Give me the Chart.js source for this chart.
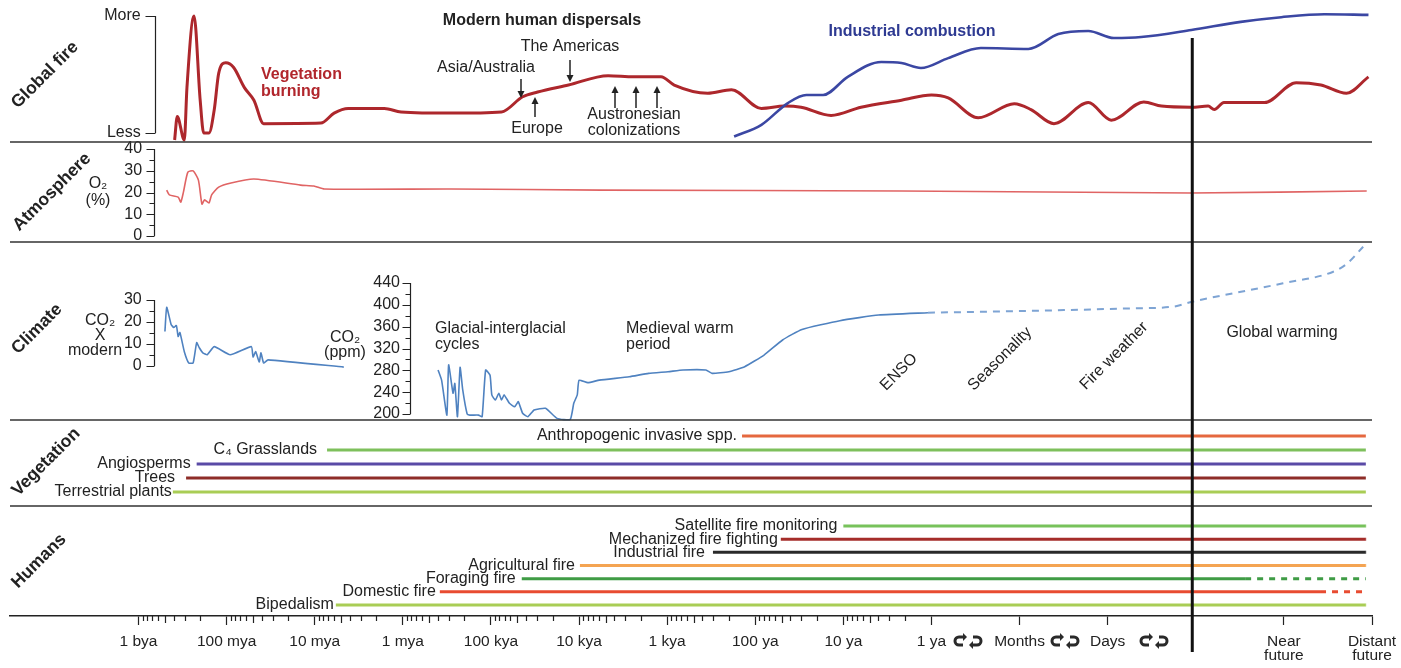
<!DOCTYPE html>
<html><head><meta charset="utf-8">
<script src="https://cdn.jsdelivr.net/npm/chart.js@4.4.1/dist/chart.umd.min.js"></script>
<style>html,body{margin:0;padding:0;background:#fff}canvas{display:block}</style>
</head><body>
<canvas id="c" width="1401" height="668" style="width:1401px;height:668px"></canvas>
<script>
// ---- time axis: decades on a log scale (0 = 1 bya, 1 = 100 mya ... 9 = 1 ya, 10 = months, 11 = days, 13/14 = future)
const xTickValues = [0,1,2,3,4,5,6,7,8,9,10,11,13,14];
const xTickLabels = ['1 bya','100 mya','10 mya','1 mya','100 kya','10 kya','1 kya','100 ya','10 ya','1 ya','Months','Days',['Near','future'],['Distant','future']];
const presentX = 11.96;

// ---- Global fire (relative: 0 = Less, 100 = More)
const fireX = [0.41,0.44,0.52,0.55,0.63,0.70,0.74,0.80,0.86,0.91,0.99,1.08,1.20,1.31,1.42,2.07,2.22,2.38,2.79,2.98,3.55,4.12,4.36,4.53,4.88,5.33,5.62,5.93,6.08,6.46,6.73,7.07,7.33,7.52,7.86,8.20,8.66,9.00,9.19,9.53,9.94,10.13,10.39,10.78,11.04,11.41,11.61,11.95,12.14,12.21,12.32,12.78,13.14,13.42,13.71,13.96];
const vegetationBurning = [-6,14,-6,39,100,28,0,0,20,51,60,56,39,28,8,8.5,17,21,21,18,17,18,31,35,41,49,48,48,41,34,37,21,23,22,15,22,28,32.5,30,13,25,20,8,26,11,26.5,23,22,23,20,26,26,43,41,34,48];
const industrialX = [6.76,7.07,7.37,7.58,7.77,8.05,8.43,8.66,8.88,9.19,9.56,10.10,10.44,10.78,11.07,11.38,11.95,12.51,12.97,13.46,13.96];
const industrialCombustion = [-3,7,25.6,32.5,32.5,48,60.7,59.8,55.6,64,72.6,71.8,84.6,87.2,81.2,82,88,95,99,101.5,101];
const fireTicks = [0,100];
const fireTickLabels = ['Less','More'];

// ---- Atmosphere O2 (%)
const o2X = [0.32,0.35,0.45,0.48,0.51,0.56,0.62,0.68,0.72,0.75,0.80,0.83,0.91,1.05,1.31,1.84,1.99,2.11,3.55,5.25,8.66,11.95,13.94];
const o2Percent = [21.1,18.9,17.9,15.6,20.2,29.4,29.9,25.7,14.7,16.6,15.2,18.9,22.5,24.4,26.2,23.4,23,21.6,21.6,21.1,20.7,19.8,20.7];
const o2Ticks = [0,10,20,30,40];
const o2MinorTicks = [5,15,25,35];

// ---- Climate: CO2 x modern (deep time) and CO2 ppm
const co2ModernX = [0.30,0.32,0.37,0.40,0.43,0.45,0.47,0.52,0.57,0.62,0.66,0.69,0.73,0.78,0.86,1.04,1.28,1.30,1.33,1.37,1.39,1.42,1.47,2.33];
const co2TimesModern = [15.7,26.7,18.9,17.5,18.4,13.4,15.2,6.5,1.4,1.4,10.6,8.3,6.0,5.1,8.8,5.1,8.8,4.1,6.5,1.8,6.0,1.4,2.8,-0.5];
const co2ModernTicks = [0,10,20,30];
const co2ModernMinorTicks = [5,15,25];
const co2PpmX = [3.40,3.44,3.50,3.52,3.57,3.59,3.62,3.65,3.68,3.73,3.76,3.86,3.90,3.94,3.99,4.01,4.05,4.09,4.12,4.15,4.21,4.27,4.31,4.36,4.42,4.49,4.62,4.75,4.90,4.94,4.98,5.00,5.10,5.23,5.57,5.79,6.01,6.18,6.44,6.51,6.70,6.88,7.10,7.31,7.53,7.96,8.40,8.96];
const co2Ppm = [280.6,262,198,290,238,256,195,285.5,244,200,198,198,195,280.6,271,235,225.6,238,225.6,235,219.6,213.4,222.5,201.3,195,207.3,210.4,192,190,219.6,235,262,257.4,262,268.3,274.5,277.5,280.6,280.6,274.5,277.5,286.7,308,335.6,355,371,381.4,385.6];
const co2ProjX = [8.96,10.15,11.29,11.74,11.96,12.42,12.99,13.56,13.72,13.90];
const co2ProjPpm = [385.6,389,393.6,396.6,405.7,421,439.5,460.7,476,506.5];
const co2PpmTicks = [200,240,280,320,360,400,440];
const co2PpmMinorTicks = [220,260,300,340,380,420];

// ---- Vegetation (row 0 = bottom)
const vegetationLabels = ['Terrestrial plants','Trees','Angiosperms','C\u2084 Grasslands','Anthropogenic invasive spp.'];
const vegetationStart = [0.39,0.54,0.66,2.14,6.85];
const vegetationEnd = [13.93,13.93,13.93,13.93,13.93];

// ---- Humans (row 0 = bottom)
const humanLabels = ['Bipedalism','Domestic fire','Foraging fire','Agricultural fire','Industrial fire','Mechanized fire fighting','Satellite fire monitoring'];
const humanStart = [2.24,3.42,4.35,5.01,6.52,7.29,8.00];
const humanSolidEnd = [13.93,13.41,12.56,13.93,13.93,13.93,13.93];
const humanEnd = [13.93,13.93,13.93,13.93,13.93,13.93,13.93];

// ---------------- styles / layout ----------------
const FONT = '"Liberation Sans", Arial, Helvetica, sans-serif';
const vegetationColors = ['#a9cd55','#8e2d28','#5a4aa6','#7ec05c','#e5683f'];
const humanColors = ['#a9cd55','#e84b31','#3f9c45','#f4a452','#2a2a2a','#a52d2a','#77c25b'];
const vegetationLabelGap = [1, 11, 6, 10, 5];
const humanLabelGap = [2, 4, 6, 5, 8, 3, 6];
const AREA_TOP = 16, AREA_BOTTOM = 616, X_MIN = -1.4585, X_MAX = 14;
function fit(v1, p1, v2, p2) { const k = (v2 - v1) / (p2 - p1); return {min: v1 + (AREA_BOTTOM - p1) * k, max: v1 + (AREA_TOP - p1) * k}; }
const pts = (xs, ys) => xs.map((x, i) => ({x, y: ys[i]}));

Chart.defaults.font.family = FONT;
Chart.defaults.color = '#222';

const datasets = [];
vegetationLabels.forEach((l, i) => datasets.push({label: l, yAxisID: 'yVeg', data: [{x: vegetationStart[i], y: i}, {x: vegetationEnd[i], y: i}], borderColor: vegetationColors[i], borderWidth: 3, pointRadius: 0, clip: false}));
humanLabels.forEach((l, i) => datasets.push({label: l, yAxisID: 'yHum', data: [{x: humanStart[i], y: i}, {x: humanSolidEnd[i], y: i}, {x: humanEnd[i], y: i}], borderColor: humanColors[i], borderWidth: 3, pointRadius: 0, clip: false,
  segment: {borderDash: c => c.p0DataIndex === 1 ? [6, 6] : undefined}}));
datasets.push({label: 'CO2 x modern', yAxisID: 'yCo2m', data: pts(co2ModernX, co2TimesModern), borderColor: '#4f82c0', borderWidth: 1.6, pointRadius: 0, tension: 0.15, clip: false});
datasets.push({label: 'CO2 ppm', yAxisID: 'yPpm', data: pts(co2PpmX, co2Ppm), borderColor: '#4f82c0', borderWidth: 1.6, pointRadius: 0, tension: 0.15, clip: false});
datasets.push({label: 'CO2 projected', yAxisID: 'yPpm', data: pts(co2ProjX, co2ProjPpm), borderColor: '#7ea4d4', borderWidth: 2, borderDash: [7, 6], pointRadius: 0, cubicInterpolationMode: 'monotone', clip: false});
datasets.push({label: 'O2', yAxisID: 'yO2', data: pts(o2X, o2Percent), borderColor: '#e06464', borderWidth: 1.6, pointRadius: 0, tension: 0.2, clip: false});
datasets.push({label: 'Industrial combustion', yAxisID: 'yFire', data: pts(industrialX, industrialCombustion), borderColor: '#3b47a3', borderWidth: 2.6, pointRadius: 0, cubicInterpolationMode: 'monotone', clip: false});
datasets.push({label: 'Vegetation burning', yAxisID: 'yFire', data: pts(fireX, vegetationBurning), borderColor: '#ad272c', borderWidth: 3, pointRadius: 0, cubicInterpolationMode: 'monotone', clip: false});

// native y axes: only their tick labels are shown (right-aligned at labelX); axis lines + tick marks are drawn at axisX
function yAxis(range, labelX, ticks, labels) {
  return Object.assign({type: 'linear', position: {x: labelX}, border: {display: false},
    grid: {display: false, drawOnChartArea: false, drawTicks: false},
    ticks: {color: '#222', font: {size: 16}, padding: 0, autoSkip: false, callback: (v, i) => labels ? labels[i] : String(v)},
    afterBuildTicks: s => { s.ticks = ticks.map(v => ({value: v})); }}, range);
}

const axisDecor = [
  {id: 'yFire', axisX: 0.187, ticks: fireTicks, minor: [], len: 10},
  {id: 'yO2', axisX: 0.176, ticks: o2Ticks, minor: o2MinorTicks, len: 8},
  {id: 'yCo2m', axisX: 0.176, ticks: co2ModernTicks, minor: co2ModernMinorTicks, len: 8},
  {id: 'yPpm', axisX: 3.08, ticks: co2PpmTicks, minor: co2PpmMinorTicks, len: 8}
];
const panelDividers = [142, 242, 420, 506];
const texts = [
  {t: 'Global fire', x: 45, y: 75, bold: true, size: 17.5, rot: -45},
  {t: 'Atmosphere', x: 52, y: 192, bold: true, size: 17.5, rot: -45},
  {t: 'Climate', x: 37, y: 329, bold: true, size: 17.5, rot: -45},
  {t: 'Vegetation', x: 46, y: 462, bold: true, size: 17.5, rot: -45},
  {t: 'Humans', x: 39, y: 561, bold: true, size: 17.5, rot: -45},
  {t: 'O\u2082', x: 98, y: 184}, {t: '(%)', x: 98, y: 201},
  {t: 'CO\u2082', x: 100, y: 321}, {t: 'X', x: 100, y: 336}, {t: 'modern', x: 95, y: 351},
  {t: 'CO\u2082', x: 345, y: 338}, {t: '(ppm)', x: 345, y: 353},
  {t: 'Glacial-interglacial', x: 435, y: 329, align: 'left'}, {t: 'cycles', x: 435, y: 345, align: 'left'},
  {t: 'Medieval warm', x: 626, y: 329, align: 'left'}, {t: 'period', x: 626, y: 345, align: 'left'},
  {t: 'ENSO', x: 899, y: 372, rot: -45}, {t: 'Seasonality', x: 1000, y: 359, rot: -45}, {t: 'Fire weather', x: 1114, y: 356, rot: -45},
  {t: 'Global warming', x: 1282, y: 333},
  {t: 'Modern human dispersals', x: 542, y: 21, bold: true},
  {t: 'The Americas', x: 570, y: 47}, {t: 'Asia/Australia', x: 486, y: 68}, {t: 'Europe', x: 537, y: 129},
  {t: 'Austronesian', x: 634, y: 115}, {t: 'colonizations', x: 634, y: 131},
  {t: 'Industrial combustion', x: 912, y: 32, bold: true, color: '#2e3a92'},
  {t: 'Vegetation', x: 261, y: 75, bold: true, color: '#b1262c', align: 'left'},
  {t: 'burning', x: 261, y: 92, bold: true, color: '#b1262c', align: 'left'}
];
const loopGlyphs = [{x: 968, y: 641}, {x: 1065, y: 641}, {x: 1154, y: 641}];
const arrows = [
  {x: 570, y1: 60, y2: 82}, {x: 521, y1: 79, y2: 98}, {x: 535, y1: 117, y2: 97},
  {x: 615, y1: 108, y2: 86}, {x: 636, y1: 108, y2: 86}, {x: 657, y1: 108, y2: 86}
];

function drawText(ctx, o) {
  ctx.save();
  ctx.font = (o.bold ? 'bold ' : '') + (o.size || 16) + 'px ' + (o.family || FONT);
  ctx.fillStyle = o.color || '#222';
  ctx.textAlign = o.align || 'center';
  ctx.textBaseline = 'middle';
  ctx.translate(o.x, o.y);
  if (o.rot) ctx.rotate(o.rot * Math.PI / 180);
  ctx.fillText(o.t, 0, 0);
  ctx.restore();
}
function drawLoop(ctx, cx, cy) {
  ctx.save();
  ctx.strokeStyle = '#2a2a2a'; ctx.fillStyle = '#2a2a2a'; ctx.lineWidth = 3; ctx.lineCap = 'butt';
  ctx.beginPath();
  ctx.moveTo(cx - 5, cy + 4); ctx.lineTo(cx - 9, cy + 4);
  ctx.arc(cx - 9, cy, 4, Math.PI / 2, 3 * Math.PI / 2);
  ctx.lineTo(cx - 4, cy - 4);
  ctx.stroke();
  ctx.beginPath(); ctx.moveTo(cx - 1, cy - 4); ctx.lineTo(cx - 5, cy - 8); ctx.lineTo(cx - 5, cy); ctx.closePath(); ctx.fill();
  ctx.beginPath();
  ctx.moveTo(cx + 5, cy - 4); ctx.lineTo(cx + 9, cy - 4);
  ctx.arc(cx + 9, cy, 4, -Math.PI / 2, Math.PI / 2);
  ctx.lineTo(cx + 4, cy + 4);
  ctx.stroke();
  ctx.beginPath(); ctx.moveTo(cx + 1, cy + 4); ctx.lineTo(cx + 5, cy); ctx.lineTo(cx + 5, cy + 8); ctx.closePath(); ctx.fill();
  ctx.restore();
}

const figurePlugin = {
  id: 'figure',
  afterDraw(chart) {
    const ctx = chart.ctx, xs = chart.scales.x, a = chart.chartArea;
    ctx.save();
    ctx.strokeStyle = '#333'; ctx.lineWidth = 1.5;
    panelDividers.forEach(y => { ctx.beginPath(); ctx.moveTo(a.left, y); ctx.lineTo(a.right, y); ctx.stroke(); });
    ctx.strokeStyle = '#222'; ctx.lineWidth = 1.2;
    axisDecor.forEach(d => {
      const s = chart.scales[d.id];
      const px = Math.round(xs.getPixelForValue(d.axisX)) + 0.5;
      ctx.beginPath();
      ctx.moveTo(px, s.getPixelForValue(d.ticks[0])); ctx.lineTo(px, s.getPixelForValue(d.ticks[d.ticks.length - 1]));
      d.ticks.forEach(v => { const py = Math.round(s.getPixelForValue(v)) + 0.5; ctx.moveTo(px, py); ctx.lineTo(px - d.len, py); });
      d.minor.forEach(v => { const py = Math.round(s.getPixelForValue(v)) + 0.5; ctx.moveTo(px, py); ctx.lineTo(px - 5, py); });
      ctx.stroke();
    });
    ctx.beginPath();
    for (let n = 0; n < 9; n++) for (let k = 2; k <= 9; k++) {
      const px = Math.round(xs.getPixelForValue(n + Math.log10(10 / k))) + 0.5;
      ctx.moveTo(px, a.bottom); ctx.lineTo(px, a.bottom + (k === 5 ? 7 : 5));
    }
    ctx.stroke();
    const pxNow = xs.getPixelForValue(presentX);
    ctx.strokeStyle = '#111'; ctx.lineWidth = 3;
    ctx.beginPath(); ctx.moveTo(pxNow, 38); ctx.lineTo(pxNow, 652); ctx.stroke();
    ctx.strokeStyle = '#222'; ctx.fillStyle = '#222'; ctx.lineWidth = 1.5;
    arrows.forEach(ar => {
      const dir = ar.y2 > ar.y1 ? 1 : -1;
      ctx.beginPath(); ctx.moveTo(ar.x, ar.y1); ctx.lineTo(ar.x, ar.y2 - dir * 5); ctx.stroke();
      ctx.beginPath(); ctx.moveTo(ar.x, ar.y2); ctx.lineTo(ar.x - 3.5, ar.y2 - dir * 7); ctx.lineTo(ar.x + 3.5, ar.y2 - dir * 7); ctx.closePath(); ctx.fill();
    });
    ctx.restore();
    const sv = chart.scales.yVeg, sh = chart.scales.yHum;
    vegetationLabels.forEach((l, i) => drawText(ctx, {t: l, x: xs.getPixelForValue(vegetationStart[i]) - vegetationLabelGap[i], y: sv.getPixelForValue(i), align: 'right'}));
    humanLabels.forEach((l, i) => drawText(ctx, {t: l, x: xs.getPixelForValue(humanStart[i]) - humanLabelGap[i], y: sh.getPixelForValue(i), align: 'right'}));
    texts.forEach(o => drawText(ctx, o));
    loopGlyphs.forEach(g => drawLoop(ctx, g.x, g.y));
  }
};

new Chart(document.getElementById('c'), {
  type: 'line',
  data: {datasets},
  plugins: [figurePlugin],
  options: {
    responsive: false, animation: false, events: [], devicePixelRatio: 1,
    layout: {padding: {left: 10, right: 29, top: AREA_TOP, bottom: 0}},
    plugins: {legend: {display: false}, tooltip: {enabled: false}},
    scales: {
      x: {type: 'linear', min: X_MIN, max: X_MAX,
        afterBuildTicks: s => { s.ticks = xTickValues.map(v => ({value: v})); },
        afterFit: s => { s.height = 668 - AREA_BOTTOM; s.paddingLeft = 0; s.paddingRight = 0; },
        ticks: {autoSkip: false, maxRotation: 0, minRotation: 0, color: '#222', font: {size: 15.5, lineHeight: 0.95}, padding: 9, callback: (v, i) => xTickLabels[i]},
        grid: {drawOnChartArea: false, tickLength: 9, tickColor: '#222', tickWidth: 1.2},
        border: {color: '#222', width: 1.5}},
      yFire: yAxis(fit(0, 133, 100, 16), 0.025, fireTicks, fireTickLabels),
      yO2: yAxis(fit(0, 236, 40, 149), 0.04, o2Ticks, null),
      yCo2m: yAxis(fit(0, 366, 30, 300), 0.036, co2ModernTicks, null),
      yPpm: yAxis(fit(200, 414, 440, 283), 2.968, co2PpmTicks, null),
      yVeg: Object.assign({type: 'linear', display: false}, fit(0, 492, 4, 436)),
      yHum: Object.assign({type: 'linear', display: false}, fit(0, 605, 6, 526))
    }
  }
});
</script>
</body></html>
